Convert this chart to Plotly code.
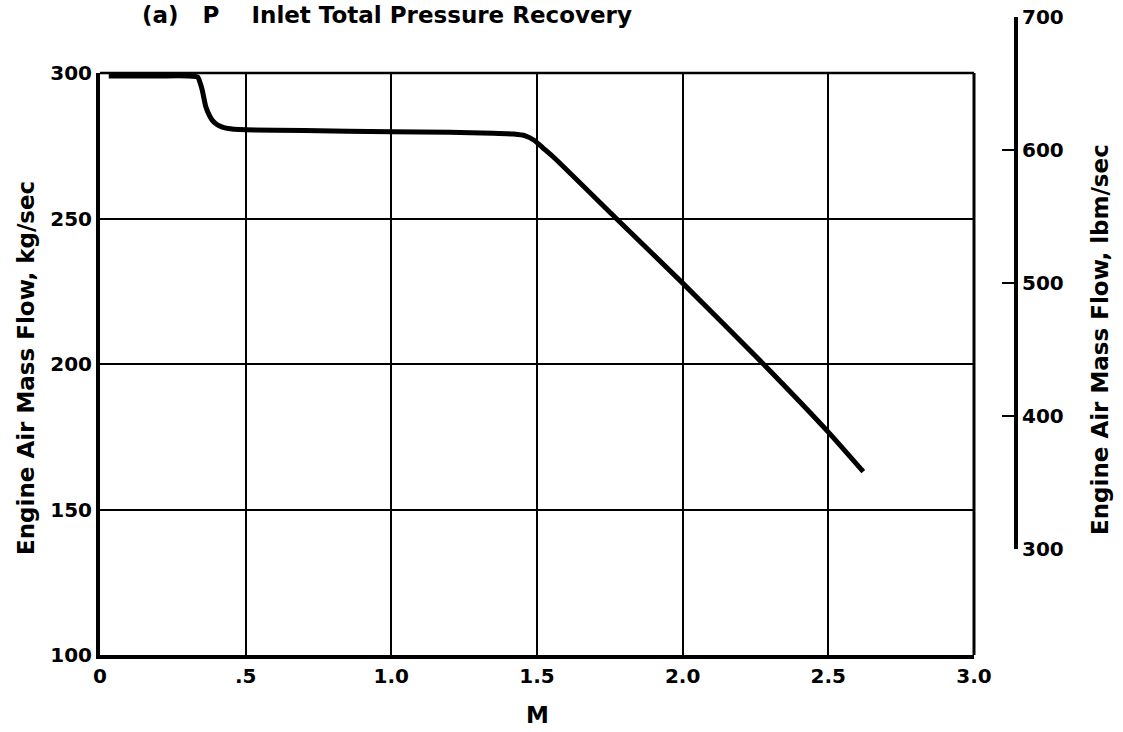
import plotly.graph_objects as go

# Engine air mass flow schedule vs flight Mach number
mach = [0.03, 0.10, 0.20, 0.30, 0.335, 0.35, 0.363, 0.375, 0.385, 0.40, 0.42,
        0.44, 0.46, 0.50, 0.70, 1.00, 1.20, 1.35, 1.42, 1.46, 1.49, 1.52, 1.56,
        1.772, 2.0, 2.277, 2.5, 2.62]
flow_kg = [299.0, 299.0, 299.0, 299.0, 298.6, 294.5, 288.5, 285.5, 283.8, 282.4,
           281.4, 280.9, 280.7, 280.5, 280.2, 279.8, 279.6, 279.3, 279.0, 278.4,
           276.9, 274.3, 270.8, 250.0, 227.8, 200.0, 176.6, 163.0]

x_ticks = [0, 0.5, 1.0, 1.5, 2.0, 2.5, 3.0]
x_tick_text = ["0", ".5", "1.0", "1.5", "2.0", "2.5", "3.0"]
kg_ticks = [100, 150, 200, 250, 300]
lbm_ticks = [300, 400, 500, 600, 700]

W, H = 1123, 732
ML, MR, MT, MB = 100, 107, 10, 77
PW, PH = W - ML - MR, H - MT - MB


def px_x(px):
    return (px - ML) / PW


def px_y(py):
    return (H - MB - py) / PH


# plot frame rows / columns (pixels)
X_DOM = [0, px_x(974)]
Y_DOM = [0, px_y(73)]
Y2_DOM = [px_y(549), px_y(17)]

FONT = "DejaVu Sans"
tick_font = dict(family=FONT, size=20, color="black", weight="bold")
title_font = dict(family=FONT, size=23, color="black", weight="bold")

fig = go.Figure()
fig.add_trace(go.Scatter(
    x=mach, y=flow_kg, mode="lines",
    line=dict(color="black", width=5, shape="spline", smoothing=0.5),
    showlegend=False, hoverinfo="skip",
))
# empty trace so the secondary lbm/sec scale is drawn
fig.add_trace(go.Scatter(x=[], y=[], xaxis="x2", yaxis="y2", showlegend=False))

fig.update_layout(
    width=W, height=H,
    margin=dict(l=ML, r=MR, t=MT, b=MB, pad=0, autoexpand=False),
    showlegend=False,
    paper_bgcolor="white", plot_bgcolor="rgba(0,0,0,0)",
    xaxis=dict(
        domain=X_DOM, range=[0, 3.0], tickvals=x_ticks, ticktext=x_tick_text,
        showgrid=True, gridcolor="black", gridwidth=2, zeroline=False,
        showline=True, linecolor="black", linewidth=4, ticks="",
        tickfont=tick_font, anchor="y", automargin=False,
    ),
    yaxis=dict(
        domain=Y_DOM, range=[100, 300], tickvals=kg_ticks,
        showgrid=True, gridcolor="black", gridwidth=2, zeroline=False,
        showline=True, linecolor="black", linewidth=4, ticks="",
        tickfont=tick_font, anchor="x", automargin=False,
    ),
    xaxis2=dict(domain=[0.99, 1.0], visible=False, showgrid=False, anchor="y2"),
    yaxis2=dict(
        domain=Y2_DOM, range=[lbm_ticks[0], lbm_ticks[-1]], tickvals=lbm_ticks,
        anchor="free", position=1.0, side="right", automargin=False,
        showgrid=False, zeroline=False, showline=True, linecolor="black", linewidth=4,
        ticks="inside", ticklen=12, tickwidth=2, tickcolor="black",
        tickfont=tick_font,
    ),
    shapes=[
        dict(type="line", xref="x domain", yref="y domain", x0=0, x1=1, y0=1, y1=1,
             line=dict(color="black", width=2.5)),
        dict(type="line", xref="x domain", yref="y domain", x0=1, x1=1, y0=0, y1=1,
             line=dict(color="black", width=3)),
    ],
    annotations=[
        dict(text="(a)\u00a0\u00a0 P\u00a0\u00a0\u00a0 Inlet Total Pressure Recovery",
             xref="paper", yref="paper", x=px_x(140), y=px_y(0),
             xanchor="left", yanchor="top", showarrow=False,
             font=dict(family=FONT, size=23, color="black", weight="bold")),
        dict(text="Engine Air Mass Flow, kg/sec", textangle=-90,
             xref="paper", yref="paper", x=px_x(26), y=px_y(368),
             xanchor="center", yanchor="middle", showarrow=False,
             font=title_font),
        dict(text="Engine Air Mass Flow, lbm/sec", textangle=-90,
             xref="paper", yref="paper", x=px_x(1100), y=px_y(340),
             xanchor="center", yanchor="middle", showarrow=False,
             font=title_font),
        dict(text="M", xref="paper", yref="paper", x=px_x(537), y=px_y(715),
             xanchor="center", yanchor="middle", showarrow=False,
             font=title_font),
    ],
)

fig.write_html("out.html")
